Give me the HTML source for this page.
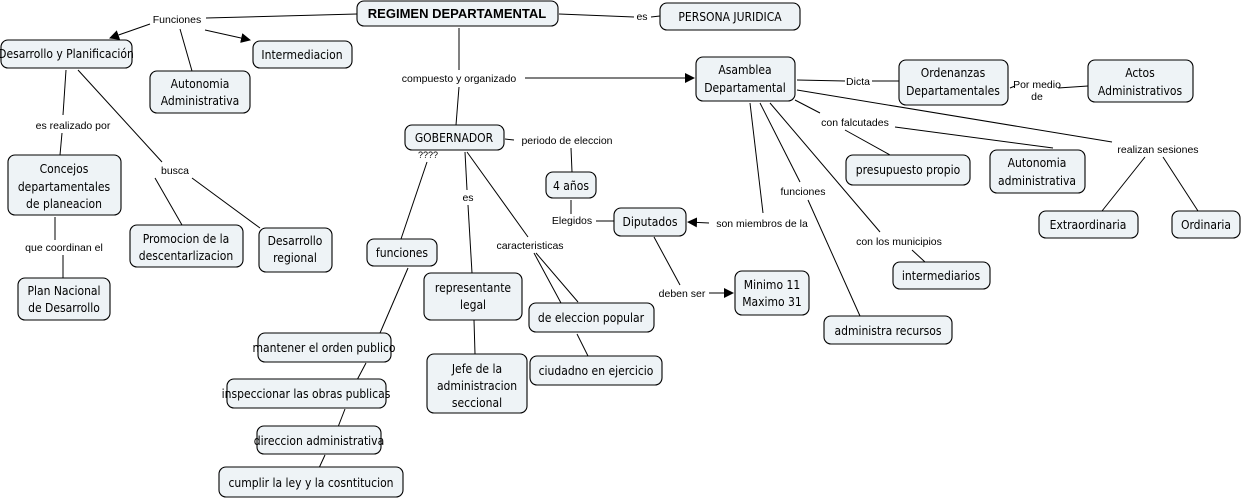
<!DOCTYPE html>
<html><head><meta charset="utf-8"><style>
html,body{margin:0;padding:0;background:#fff;}
svg{display:block;}
.n{fill:#eef3f6;stroke:#000;stroke-width:1.1;}
.t{font-family:"DejaVu Sans Condensed","DejaVu Sans","Liberation Sans",sans-serif;font-size:12px;fill:#000;text-anchor:middle;}
.l{font-family:"Liberation Sans",sans-serif;font-size:10.5px;fill:#000;text-anchor:middle;}
line{stroke:#000;stroke-width:1;}
</style></head><body>
<svg width="1244" height="501" viewBox="0 0 1244 501" xmlns="http://www.w3.org/2000/svg">
<defs><marker id="a" markerWidth="10" markerHeight="10" refX="9" refY="5" orient="auto" markerUnits="userSpaceOnUse"><path d="M0,0 L10,5 L0,10 z" fill="#000"/></marker></defs>
<g>
<line x1="357" y1="14" x2="206" y2="18"/>
<line x1="150" y1="24" x2="110" y2="38" marker-end="url(#a)"/>
<line x1="205" y1="30" x2="250" y2="40" marker-end="url(#a)"/>
<line x1="180" y1="29" x2="192" y2="71"/>
<line x1="559" y1="14" x2="634" y2="17"/>
<line x1="651" y1="17" x2="660" y2="16"/>
<line x1="459" y1="28" x2="459" y2="70"/>
<line x1="459" y1="87" x2="456" y2="125"/>
<line x1="525" y1="78" x2="694" y2="78" marker-end="url(#a)"/>
<line x1="797" y1="80" x2="845" y2="81"/>
<line x1="872" y1="81" x2="899" y2="81"/>
<line x1="1010" y1="88" x2="1015" y2="86"/>
<line x1="1058" y1="88" x2="1088" y2="86"/>
<line x1="66" y1="70" x2="63" y2="115"/>
<line x1="62" y1="133" x2="60" y2="155"/>
<line x1="78" y1="70" x2="162" y2="162"/>
<line x1="155" y1="178" x2="182" y2="225"/>
<line x1="192" y1="178" x2="260" y2="228"/>
<line x1="55" y1="217" x2="55" y2="240"/>
<line x1="63" y1="255" x2="63" y2="278"/>
<line x1="505" y1="139" x2="514" y2="140"/>
<line x1="571" y1="148" x2="572" y2="172"/>
<line x1="571" y1="200" x2="571" y2="214"/>
<line x1="596" y1="221" x2="614" y2="221"/>
<line x1="427" y1="162" x2="401" y2="239"/>
<line x1="465" y1="152" x2="467" y2="190"/>
<line x1="468" y1="205" x2="472" y2="273"/>
<line x1="467" y1="152" x2="528" y2="237"/>
<line x1="534" y1="253" x2="561" y2="303"/>
<line x1="536" y1="253" x2="578" y2="302"/>
<line x1="577" y1="334" x2="588" y2="356"/>
<line x1="474" y1="320" x2="475" y2="354"/>
<line x1="408" y1="268" x2="380" y2="333"/>
<line x1="366" y1="363" x2="357" y2="380"/>
<line x1="345" y1="409" x2="338" y2="427"/>
<line x1="325" y1="455" x2="319" y2="468"/>
<line x1="750" y1="103" x2="763" y2="213"/>
<line x1="709" y1="223" x2="688" y2="222" marker-end="url(#a)"/>
<line x1="654" y1="237" x2="680" y2="285"/>
<line x1="709" y1="293" x2="733" y2="293" marker-end="url(#a)"/>
<line x1="760" y1="103" x2="800" y2="182"/>
<line x1="808" y1="200" x2="860" y2="316"/>
<line x1="770" y1="103" x2="880" y2="232"/>
<line x1="912" y1="250" x2="925" y2="262"/>
<line x1="795" y1="100" x2="820" y2="113"/>
<line x1="845" y1="130" x2="890" y2="155"/>
<line x1="895" y1="127" x2="1053" y2="148"/>
<line x1="797" y1="90" x2="1112" y2="142"/>
<line x1="1145" y1="157" x2="1102" y2="211"/>
<line x1="1163" y1="157" x2="1198" y2="211"/>
</g>
<g>
<rect class="n" x="357" y="1" width="201" height="25" rx="7"/>
<rect class="n" x="660" y="3" width="140" height="27" rx="7"/>
<rect class="n" x="1" y="40" width="131" height="28" rx="7"/>
<rect class="n" x="253" y="41" width="99" height="27" rx="7"/>
<rect class="n" x="150" y="71" width="100" height="42" rx="7"/>
<rect class="n" x="696" y="57" width="99" height="44" rx="7"/>
<rect class="n" x="899" y="60" width="109" height="45" rx="7"/>
<rect class="n" x="1088" y="60" width="105" height="42" rx="7"/>
<rect class="n" x="405" y="125" width="99" height="25" rx="7"/>
<rect class="n" x="546" y="172" width="50" height="26" rx="7"/>
<rect class="n" x="8" y="155" width="113" height="60" rx="7"/>
<rect class="n" x="846" y="155" width="124" height="30" rx="7"/>
<rect class="n" x="990" y="150" width="95" height="43" rx="7"/>
<rect class="n" x="614" y="208" width="72" height="28" rx="7"/>
<rect class="n" x="1039" y="211" width="99" height="27" rx="7"/>
<rect class="n" x="1172" y="211" width="68" height="27" rx="7"/>
<rect class="n" x="130" y="225" width="113" height="42" rx="7"/>
<rect class="n" x="259" y="228" width="73" height="44" rx="7"/>
<rect class="n" x="367" y="239" width="70" height="27" rx="7"/>
<rect class="n" x="424" y="273" width="98" height="47" rx="7"/>
<rect class="n" x="18" y="278" width="92" height="42" rx="7"/>
<rect class="n" x="735" y="271" width="74" height="44" rx="7"/>
<rect class="n" x="893" y="262" width="97" height="27" rx="7"/>
<rect class="n" x="529" y="303" width="125" height="29" rx="7"/>
<rect class="n" x="824" y="316" width="128" height="28" rx="7"/>
<rect class="n" x="258" y="333" width="133" height="29" rx="7"/>
<rect class="n" x="427" y="354" width="100" height="59" rx="7"/>
<rect class="n" x="530" y="356" width="132" height="29" rx="7"/>
<rect class="n" x="227" y="379" width="159" height="29" rx="7"/>
<rect class="n" x="257" y="426" width="124" height="28" rx="7"/>
<rect class="n" x="219" y="467" width="184" height="30" rx="7"/>
</g>
<g class="t">
<text x="457" y="18" style="font-family:'Liberation Sans',sans-serif;font-weight:bold;font-size:13px">REGIMEN DEPARTAMENTAL</text>
<text x="730" y="21">PERSONA JURIDICA</text>
<text x="66" y="58">Desarrollo y Planificación</text>
<text x="302" y="59">Intermediacion</text>
<text x="200" y="88">Autonomia</text><text x="200" y="105">Administrativa</text>
<text x="745" y="74">Asamblea</text><text x="745" y="92">Departamental</text>
<text x="953" y="77">Ordenanzas</text><text x="953" y="95">Departamentales</text>
<text x="1140" y="77">Actos</text><text x="1140" y="95">Administrativos</text>
<text x="454" y="142">GOBERNADOR</text>
<text x="571" y="190">4 años</text>
<text x="64" y="173">Concejos</text><text x="64" y="191">departamentales</text><text x="64" y="208">de planeacion</text>
<text x="908" y="174">presupuesto propio</text>
<text x="1037" y="167">Autonomia</text><text x="1037" y="185">administrativa</text>
<text x="650" y="226">Diputados</text>
<text x="1088" y="229">Extraordinaria</text>
<text x="1206" y="229">Ordinaria</text>
<text x="186" y="243">Promocion de la</text><text x="186" y="260">descentarlizacion</text>
<text x="295" y="245">Desarrollo</text><text x="295" y="262">regional</text>
<text x="402" y="257">funciones</text>
<text x="473" y="292">representante</text><text x="473" y="309">legal</text>
<text x="64" y="295">Plan Nacional</text><text x="64" y="312">de Desarrollo</text>
<text x="772" y="289">Minimo 11</text><text x="772" y="306">Maximo 31</text>
<text x="941" y="280">intermediarios</text>
<text x="591" y="322">de eleccion popular</text>
<text x="888" y="335">administra recursos</text>
<text x="324" y="352">mantener el orden publico</text>
<text x="477" y="373">Jefe de la</text><text x="477" y="390">administracion</text><text x="477" y="407">seccional</text>
<text x="596" y="375">ciudadno en ejercicio</text>
<text x="306" y="398">inspeccionar las obras publicas</text>
<text x="319" y="445">direccion administrativa</text>
<text x="311" y="487">cumplir la ley y la cosntitucion</text>
</g>
<g class="l">
<text x="177" y="23">Funciones</text>
<text x="642" y="20">es</text>
<text x="459" y="82">compuesto y organizado</text>
<text x="858" y="85">Dicta</text>
<text x="1037" y="88">Por medio</text><text x="1037" y="100">de</text>
<text x="73" y="129">es realizado por</text>
<text x="175" y="174">busca</text>
<text x="428" y="158" style="font-size:9px">????</text>
<text x="567" y="144">periodo de eleccion</text>
<text x="468" y="201">es</text>
<text x="855" y="126">con falcutades</text>
<text x="1158" y="153">realizan sesiones</text>
<text x="803" y="195">funciones</text>
<text x="572" y="224">Elegidos</text>
<text x="762" y="227">son miembros de la</text>
<text x="530" y="249">caracteristicas</text>
<text x="899" y="245">con los municipios</text>
<text x="64" y="251">que coordinan el</text>
<text x="682" y="297">deben ser</text>
</g>
</svg>
</body></html>
